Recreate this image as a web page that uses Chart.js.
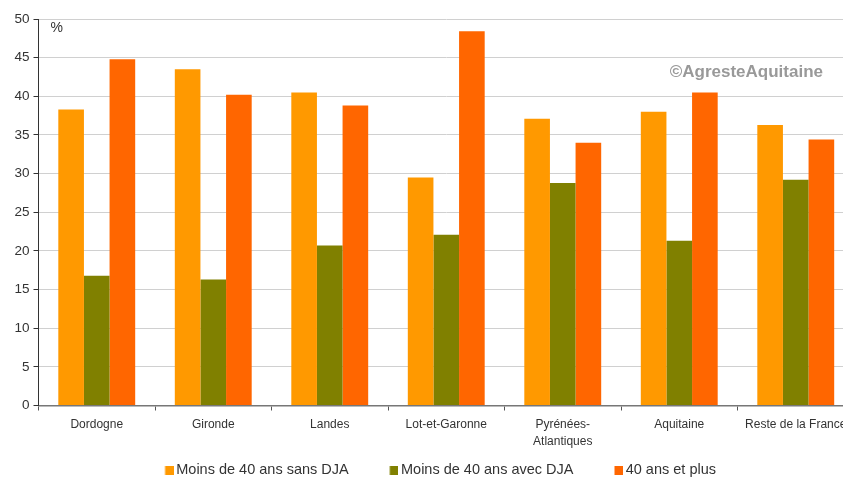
<!DOCTYPE html>
<html>
<head>
<meta charset="utf-8">
<script src="https://cdn.jsdelivr.net/npm/chart.js@4"></script>
<style>
  html, body { margin: 0; padding: 0; background: #fff; overflow: hidden; }
  #wrap { position: relative; width: 856px; height: 477px; }
</style>
</head>
<body>
<div id="wrap"><canvas id="c"></canvas></div>
<script>
// Répartition des installations par classe d'âge, par département (%)
const categories = ['Dordogne', 'Gironde', 'Landes', 'Lot-et-Garonne', ['Pyrénées-', 'Atlantiques'], 'Aquitaine', 'Reste de la France'];
const seriesNames = ['Moins de 40 ans sans DJA', 'Moins de 40 ans avec DJA', '40 ans et plus'];
const moinsSansDJA = [38.3, 43.5, 40.5, 29.5, 37.1, 38.0, 36.3];
const moinsAvecDJA = [16.8, 16.3, 20.7, 22.1, 28.8, 21.3, 29.2];
const plus40 = [44.8, 40.2, 38.8, 48.4, 34.0, 40.5, 34.4];
const yTicks = [0, 5, 10, 15, 20, 25, 30, 35, 40, 45, 50];

const colors = ['#ff9900', '#808000', '#ff6600'];
const FONT = "'Liberation Sans', Arial, sans-serif";
const LEGEND_FONT = 14.5;
const LEGEND_PAD = 43;
const LEGEND_TEXT_Y = 470;
const LEGEND_SHIFT = 14.5;

// Legend marker: a 9px square sitting right next to its label
function legendSwatch(color) {
  const w = 11.5, h = 9;
  const cv = document.createElement('canvas');
  cv.width = w; cv.height = h;
  const c = cv.getContext('2d');
  c.fillStyle = color;
  c.fillRect(w - 9, 0, 9, 9);
  return cv;
}
const swatches = colors.map(legendSwatch);

// Unit label, copyright and legend placement
const annotations = {
  id: 'annotations',
  afterInit(chart) {
    const legend = chart.legend;
    if (legend) {
      const fit = legend.fit.bind(legend);
      legend.fit = function () { fit(); this.height = 25.5; };
    }
  },
  afterLayout(chart) {
    const legend = chart.legend;
    if (legend) {
      const top = LEGEND_TEXT_Y - LEGEND_FONT / 2 - LEGEND_PAD;
      legend.top = top;
      legend.bottom = chart.height;
      legend.height = legend.bottom - top;
      legend.left += LEGEND_SHIFT;
      legend.right += LEGEND_SHIFT;
    }
  },
  afterDraw(chart) {
    const { ctx, chartArea } = chart;
    ctx.save();
    ctx.fillStyle = '#333';
    ctx.font = '14px ' + FONT;
    ctx.textBaseline = 'middle';
    ctx.textAlign = 'left';
    ctx.fillText('%', chartArea.left + 12, 28.5);
    ctx.fillStyle = '#999';
    ctx.font = 'bold 17px ' + FONT;
    ctx.textAlign = 'right';
    ctx.fillText('©AgresteAquitaine', 823, 72.5);
    ctx.restore();
  }
};

new Chart(document.getElementById('c'), {
  type: 'bar',
  data: {
    labels: categories,
    datasets: [
      { label: seriesNames[0], data: moinsSansDJA, backgroundColor: colors[0] },
      { label: seriesNames[1], data: moinsAvecDJA, backgroundColor: colors[1] },
      { label: seriesNames[2], data: plus40, backgroundColor: colors[2] }
    ]
  },
  options: {
    responsive: true,
    maintainAspectRatio: false,
    animation: false,
    layout: { padding: { top: 19, right: 2, left: 0, bottom: 0 } },
    datasets: { bar: { categoryPercentage: 0.66, barPercentage: 1.0 } },
    plugins: {
      legend: {
        position: 'bottom',
        labels: {
          usePointStyle: true,
          pointStyleWidth: 2,
          boxHeight: 9,
          padding: LEGEND_PAD,
          color: '#333',
          font: { family: FONT, size: LEGEND_FONT },
          generateLabels(chart) {
            const items = Chart.defaults.plugins.legend.labels.generateLabels(chart);
            items.forEach((it, i) => { it.pointStyle = swatches[i]; });
            return items;
          }
        }
      },
      tooltip: { enabled: false }
    },
    scales: {
      x: {
        grid: { drawOnChartArea: false, offset: true, tickLength: 5, tickColor: '#555' },
        border: { color: '#777', width: 1.5 },
        ticks: { color: '#333', font: { family: FONT, size: 12, lineHeight: 1.4 }, padding: 6, maxRotation: 0, autoSkip: false },
        afterFit(scale) { scale.height = 46; }
      },
      y: {
        min: 0,
        max: 50,
        afterBuildTicks(scale) { scale.ticks = yTicks.map(v => ({ value: v })); },
        grid: { color: '#d0d0d0', lineWidth: 1, tickLength: 5, tickColor: '#333' },
        border: { color: '#333', width: 1 },
        ticks: { color: '#333', font: { family: FONT, size: 13.5 }, padding: 4 },
        afterFit(scale) { scale.width = 38.5; }
      }
    }
  },
  plugins: [annotations]
});
</script>
</body>
</html>
